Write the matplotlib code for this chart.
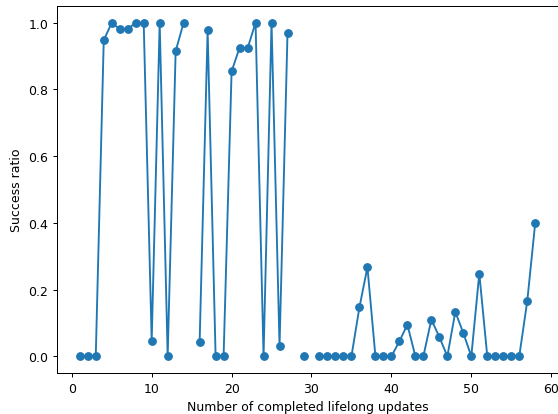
import matplotlib
matplotlib.use("Agg")
import matplotlib.pyplot as plt
import numpy as np

# number of completed lifelong updates (x) and success ratio (y); nan = no value
updates = list(range(1, 59))
success = [
    0.0, 0.0, 0.0, 0.947, 1.0, 0.981, 0.981, 1.0, 1.0, 0.046,   # 1-10
    1.0, 0.0, 0.915, 1.0, np.nan, 0.042, 0.977, 0.0, 0.0, 0.854,  # 11-20
    0.925, 0.923, 1.0, 0.0, 1.0, 0.030, 0.970, np.nan, 0.0, np.nan,  # 21-30
    0.0, 0.0, 0.0, 0.0, 0.0, 0.147, 0.267, 0.0, 0.0, 0.0,       # 31-40
    0.045, 0.095, 0.0, 0.0, 0.110, 0.058, 0.0, 0.133, 0.070, 0.0,  # 41-50
    0.248, 0.0, 0.0, 0.0, 0.0, 0.0, 0.165, 0.400,               # 51-58
]

# the reference looks like a default figure shrunk to ~90%, so draw at 90 dpi
dpi = 90
fig = plt.figure(figsize=(558 / dpi, 415 / dpi), dpi=dpi)
ax = fig.add_axes([57 / 558, 41 / 415, 501 / 558, 367 / 415])

ax.plot(updates, success, marker='o')

ax.set_xlabel('Number of completed lifelong updates')
ax.set_ylabel('Success ratio')

fig.savefig('out.png', dpi=dpi)
